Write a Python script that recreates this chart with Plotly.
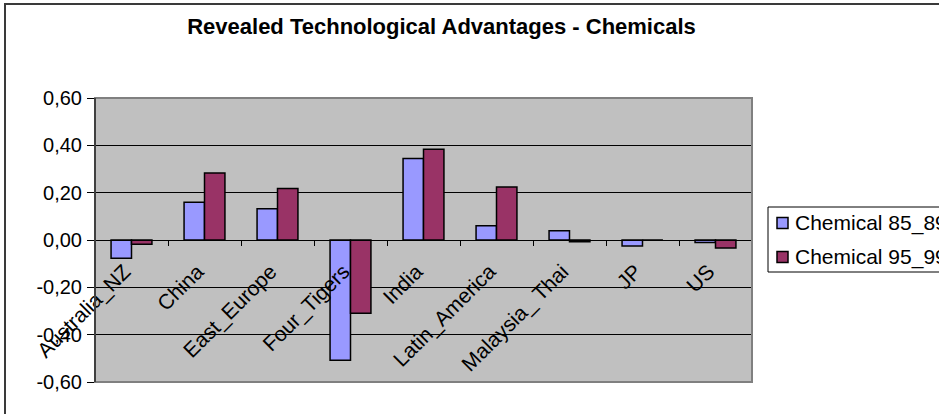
import plotly.graph_objects as go

# Revealed technological advantage indices for chemicals, by region
regions = ["Australia_NZ", "China", "East_Europe", "Four_Tigers", "India",
           "Latin_America", "Malaysia_ Thai", "JP", "US"]
chem_85_89 = [-0.077, 0.159, 0.132, -0.508, 0.344, 0.060, 0.039, -0.025, -0.011]
chem_95_99 = [-0.018, 0.283, 0.218, -0.310, 0.383, 0.224, -0.007, 0.000, -0.034]
series_names = ["Chemical 85_89", "Chemical 95_99"]
series_colors = ["#9999FF", "#993366"]
y_ticks = [-0.6, -0.4, -0.2, 0.0, 0.2, 0.4, 0.6]
y_tick_text = ["-0,60", "-0,40", "-0,20", "0,00", "0,20", "0,40", "0,60"]

W, H = 939, 414
L, R, T, B = 95, 752, 98, 382  # plot area edges in pixels
PW, PH = R - L, B - T

def px_x(p):
    return (p - L) / PW

def px_y(p):
    return (B - p) / PH

FONT = "Liberation Sans, Arial, sans-serif"

fig = go.Figure()
for name, vals, col in zip(series_names, [chem_85_89, chem_95_99], series_colors):
    fig.add_trace(go.Bar(
        x=regions, y=vals, name=name,
        marker=dict(color=col, line=dict(color="#000000", width=1.5)),
    ))

fig.update_layout(
    width=W, height=H,
    margin=dict(l=L, r=W - R, t=T, b=H - B, autoexpand=False),
    paper_bgcolor="white",
    plot_bgcolor="#C0C0C0",
    barmode="group",
    bargap=0.44,
    bargroupgap=0.0,
    showlegend=False,
    font=dict(family=FONT, color="black", size=20),
    title=dict(
        text="<b>Revealed Technological Advantages - Chemicals</b>",
        font=dict(family=FONT, size=22, color="black"),
        x=441.5 / W, xref="container", xanchor="center",
        y=(H - 26) / H, yref="container", yanchor="middle",
    ),
)

fig.update_yaxes(
    range=[-0.6, 0.6],
    tickvals=y_ticks,
    ticktext=y_tick_text,
    showgrid=True, gridcolor="black", gridwidth=1,
    zeroline=False,
    showline=True, linecolor="black", linewidth=1,
    ticks="outside", ticklen=7, tickcolor="black",
    tickfont=dict(family=FONT, size=20, color="black"),
    ticklabelstandoff=1,
)

fig.update_xaxes(
    type="category",
    anchor="free", position=0.5,
    showline=True, linecolor="black", linewidth=1,
    ticks="outside", ticklen=5, tickcolor="black",
    tickson="boundaries",
    tickangle=-45,
    tickfont=dict(family=FONT, size=21, color="black"),
    ticklabelstandoff=10,
    ticklabelshift=-7,
    showgrid=False,
)

# grey frame around the plot area
fig.add_shape(type="rect", xref="paper", yref="paper",
              x0=0, x1=1, y0=0, y1=1,
              line=dict(color="#808080", width=2), layer="above")
# left axis redrawn on top of the frame
fig.add_shape(type="line", xref="paper", yref="paper",
              x0=0, x1=0, y0=0, y1=1,
              line=dict(color="black", width=1), layer="above")
# outer chart border
fig.add_shape(type="rect", xref="paper", yref="paper",
              x0=px_x(5), x1=px_x(1000), y0=px_y(440), y1=px_y(4),
              line=dict(color="#3a3a3a", width=2), layer="above")

# legend box with a swatch and label per series
fig.add_shape(type="rect", xref="paper", yref="paper",
              x0=px_x(768), x1=px_x(1000), y0=px_y(272), y1=px_y(207),
              line=dict(color="black", width=1), fillcolor="white", layer="above")
for i, (name, col) in enumerate(zip(series_names, series_colors)):
    cy = 223 + 34 * i
    fig.add_shape(type="rect", xref="paper", yref="paper",
                  x0=px_x(777), x1=px_x(788), y0=px_y(cy + 5.5), y1=px_y(cy - 5.5),
                  line=dict(color="black", width=1.5), fillcolor=col, layer="above")
    fig.add_annotation(xref="paper", yref="paper", x=px_x(793), y=px_y(cy),
                       xanchor="left", yanchor="middle", showarrow=False,
                       text=name, font=dict(family=FONT, size=21, color="black"))

fig.write_html("out.html")
